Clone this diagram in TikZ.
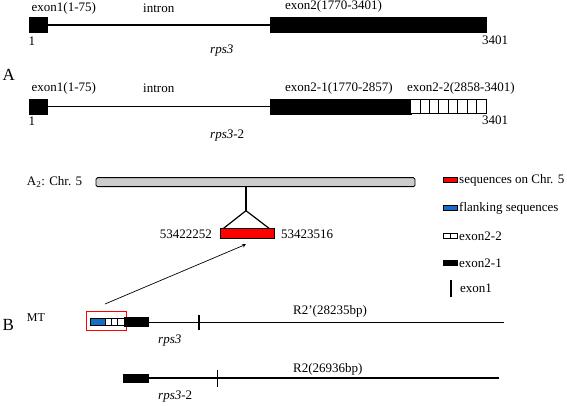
\documentclass[tikz,border=0pt]{standalone}
\usepackage{fontspec}
\setmainfont{Liberation Serif}
\definecolor{flank}{RGB}{20,110,195}
\begin{document}
\begin{tikzpicture}[x=1pt,y=-1pt,
  lbl/.style={inner sep=0pt,font=\fontsize{13}{14}\selectfont},
  blk/.style={fill=black,draw=black},
  ln/.style={line width=1.5pt},
  tick/.style={line width=1.4pt},
  cell/.style={fill=white,draw=black,line width=0.9pt}]
\useasboundingbox (0,0) rectangle (567,406);
% ---- Panel A, rps3
\path[blk] (29.5,17.3) rectangle (46.7,32.7);
\coordinate (a1) at (46.7,25);
\coordinate (a2) at (270,25);
\draw[ln] (a1) -- (a2);
\path[blk] (270,17.3) rectangle (486,32.7);
\node[lbl,anchor=west] (t1) at (31.5,8.5) {exon1(1-75)};
\node[lbl,anchor=west] (t2) at (143,8.5) {intron};
\node[lbl,anchor=west] (t3) at (285,6.7) {exon2(1770-3401)};
\node[lbl,anchor=west] (t4) at (28.5,41.5) {1};
\node[lbl,anchor=west] (t5) at (482,40.5) {3401};
\node[lbl,anchor=west] (t6) at (210,50.5) {\itshape rps3};
\node[font=\fontsize{17}{18}\selectfont,inner sep=0pt,anchor=west] (A) at (2.5,75) {A};
% ---- Panel A, rps3-2
\path[blk] (29.5,99) rectangle (46.7,114);
\coordinate (b1) at (46.7,106.7);
\coordinate (b2) at (270,106.7);
\draw[ln] (b1) -- (b2);
\path[blk] (270,99) rectangle (410.7,114);
\foreach \i in {0,...,7}{\draw[cell] (410.7+\i*9.41,99.5) rectangle (410.7+\i*9.41+9.41,113.5);}
\node[lbl,anchor=west] at (31.5,88.5) {exon1(1-75)};
\node[lbl,anchor=west] at (143,88.5) {intron};
\node[lbl,anchor=west] at (285,88.5) {exon2-1(1770-2857)};
\node[lbl,anchor=west] at (407,88.5) {exon2-2(2858-3401)};
\node[lbl,anchor=west] at (28.5,121) {1};
\node[lbl,anchor=west] at (482,120.5) {3401};
\node[lbl,anchor=west] at (210,135.5) {\itshape rps3\upshape -2};
% ---- Chr. 5
\node[lbl,anchor=west] (chrl) at (26.7,182) {A\textsubscript{2}: Chr. 5};
\draw[fill=black!20,rounded corners=1.5pt,line width=0.9pt] (96,177.7) rectangle (415,186.7);
\coordinate (c1) at (246,186.7);
\coordinate (c2) at (246,210.7);
\draw[line width=1.2pt] (c1) -- (c2);
\draw[line width=1.2pt] (223.3,228.5) -- (c2) -- (269.3,228.5);
\node[draw=black,fill=red,line width=1.2pt,minimum width=54pt,minimum height=10pt,inner sep=0pt] (red) at (247.2,233.7) {};
\node[lbl,anchor=east] at (212,234) {53422252};
\node[lbl,anchor=west] at (281,234) {53423516};
% ---- legend
\draw[fill=red,line width=0.8pt] (443,177.7) rectangle (457,182.5);
\node[lbl,anchor=west] at (459,180) {sequences on Chr. 5};
\draw[fill=flank,line width=0.8pt] (443,205.7) rectangle (457,210.3);
\node[lbl,anchor=west] at (459,208) {flanking sequences};
\draw[fill=white,line width=0.9pt] (443,233) rectangle (450,238.3);
\draw[fill=white,line width=0.9pt] (450,233) rectangle (457,238.3);
\node[lbl,anchor=west] at (459,236) {exon2-2};
\path[blk] (443,260.5) rectangle (457,265.5);
\node[lbl,anchor=west] at (459,263.5) {exon2-1};
\draw[tick] (451,280) -- (451,296.7);
\node[lbl,anchor=west] at (460,288.5) {exon1};
% ---- Panel B
\node[font=\fontsize{17}{18}\selectfont,inner sep=0pt,anchor=west] (B) at (2.5,325) {B};
\node[inner sep=0pt,font=\fontsize{12}{13}\selectfont,anchor=west] at (26.7,318) {MT};
\node[draw=red,line width=0.9pt,minimum width=40.7pt,minimum height=19pt,inner sep=0pt] (box) at (106.3,321.2) {};
\draw[fill=flank,line width=0.9pt] (90.7,318.3) rectangle (105,325);
\foreach \i in {0,1,2}{\draw[cell] (105+\i*6.33,318.3) rectangle (111.33+\i*6.33,325);}
\path[blk] (124,317.5) rectangle (147.7,325.7);
\coordinate (m1) at (147.7,322.5);
\coordinate (m2) at (504,322.5);
\draw[ln] (m1) -- (m2);
\draw[tick] (199,315) -- (199,330);
\node[lbl,anchor=west] at (293,311.7) {R2'(28235bp)};
\node[lbl,anchor=west] at (158,341) {\itshape rps3};
\coordinate (arrs) at (105,304);
\draw[-stealth,line width=0.7pt] (arrs) -- (246,244.3);
\path[blk] (123.3,374.3) rectangle (147.7,381.7);
\coordinate (n1) at (147.7,378);
\coordinate (n2) at (499.3,378);
\draw[ln] (n1) -- (n2);
\draw[tick] (217.3,370) -- (217.3,386.7);
\node[lbl,anchor=west] at (293,369) {R2(26936bp)};
\node[lbl,anchor=west] at (158,396.7) {\itshape rps3\upshape -2};
\end{tikzpicture}
\end{document}
